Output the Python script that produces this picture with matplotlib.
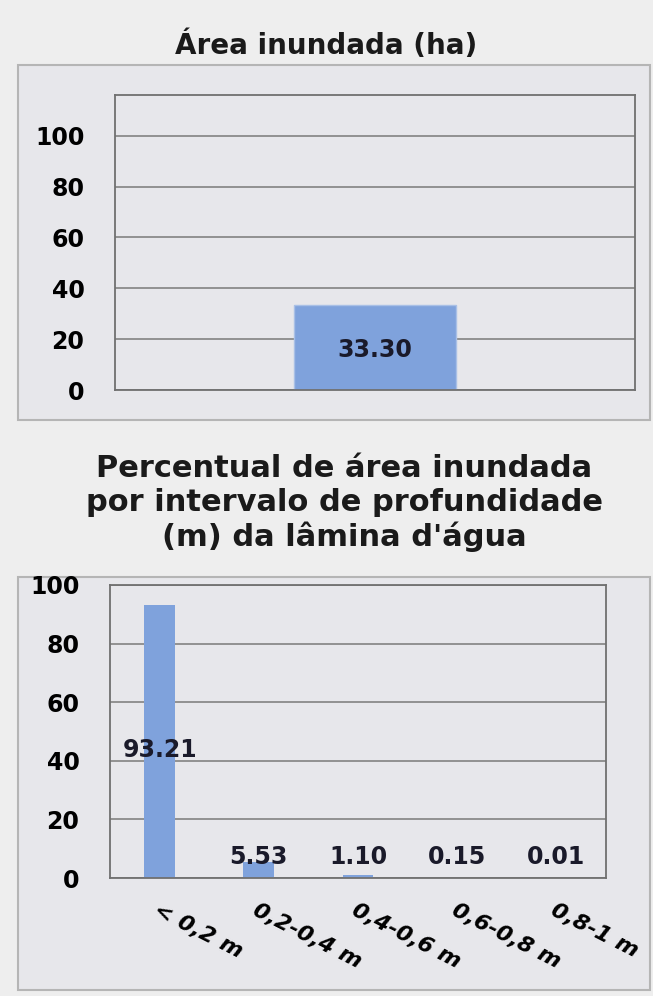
import matplotlib.pyplot as plt
from matplotlib.patches import Rectangle

# data
area_cats = [""]
area_vals = [33.30]

depth_cats = ["< 0,2 m", "0,2-0,4 m", "0,4-0,6 m", "0,6-0,8 m", "0,8-1 m"]
depth_vals = [93.21, 5.53, 1.10, 0.15, 0.01]

yticks = [0, 20, 40, 60, 80, 100]

bar_color = "#7fa2dc"
panel_bg = "#e7e7eb"
grid_color = "#8a8a8a"

plt.rcParams["font.family"] = ["DejaVu Sans"]
plt.rcParams["font.weight"] = "bold"

fig = plt.figure(figsize=(6.53, 9.96), dpi=100)
fig.patch.set_facecolor("#eeeeee")

W, H = 653.0, 996.0


def px_box(x0, y0, x1, y1):
    # pixel box (top-left origin) -> figure fractions
    return [x0 / W, 1 - y1 / H, (x1 - x0) / W, (y1 - y0) / H]


# panel frames
for (x0, y0, x1, y1) in [(18, 65, 650, 420), (18, 577, 650, 990)]:
    l, b, w, h = px_box(x0, y0, x1, y1)
    fig.patches.append(Rectangle((l, b), w, h, transform=fig.transFigure,
                                 facecolor=panel_bg, edgecolor="#b5b5b5",
                                 linewidth=1.5, zorder=-5))


def style(ax):
    ax.set_facecolor(panel_bg)
    ax.set_yticks(yticks)
    ax.yaxis.grid(True, color=grid_color, linewidth=1.3)
    ax.set_axisbelow(True)
    for s in ax.spines.values():
        s.set_color("#707070")
        s.set_linewidth(1.3)
    ax.tick_params(axis="y", length=0, labelsize=17, pad=22)
    ax.tick_params(axis="x", length=0)
    for t in ax.get_yticklabels():
        t.set_fontweight("bold")


# top chart
ax1 = fig.add_axes(px_box(115, 95, 635, 390))
ax1.bar(range(len(area_vals)), area_vals, width=0.31, color=bar_color,
        edgecolor="#a9c0e6", linewidth=1)
ax1.set_xlim(-0.5, 0.5)
ax1.set_ylim(0, 116)
ax1.set_xticks([])
style(ax1)
for i, v in enumerate(area_vals):
    ax1.text(i, v / 2 - 1, f"{v:.2f}", ha="center", va="center",
             fontsize=17, fontweight="bold", color="#1a1a2a")
fig.text(0.5, 1 - 45 / H, "Área inundada (ha)", ha="center", va="center",
         fontsize=20, fontweight="bold", color="#1a1a1a")

# bottom chart
ax2 = fig.add_axes(px_box(110, 585, 606, 878))
x = list(range(len(depth_vals)))
ax2.bar(x, depth_vals, width=0.31, color=bar_color, edgecolor="none")
ax2.set_xlim(-0.5, len(depth_vals) - 0.5)
ax2.set_ylim(0, 100)
style(ax2)
ax2.set_xticks(x)
ax2.set_xticklabels(depth_cats, rotation=-27, ha="left", va="top",
                    rotation_mode="anchor", fontsize=16, fontstyle="italic",
                    fontweight="bold")
ax2.tick_params(axis="x", pad=16)
for i, v in enumerate(depth_vals):
    y = v * 0.47 if v > 20 else 7
    ax2.text(i, y, f"{v:.2f}", ha="center", va="center",
             fontsize=17, fontweight="bold", color="#1a1a2a")
fig.text(344 / W, 1 - 503 / H,
         "Percentual de área inundada\npor intervalo de profundidade\n(m) da lâmina d'água",
         ha="center", va="center", fontsize=22, fontweight="bold",
         color="#1a1a1a", linespacing=1.22)

fig.savefig("out.png", dpi=100, facecolor=fig.get_facecolor())
